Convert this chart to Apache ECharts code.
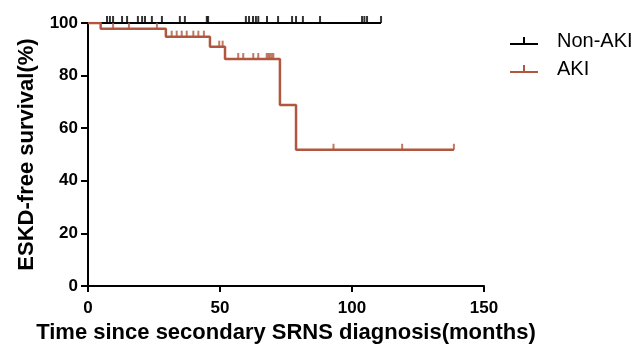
<!DOCTYPE html>
<html>
<head>
<meta charset="utf-8">
<script src="https://cdn.jsdelivr.net/npm/echarts@6/dist/echarts.min.js"></script>
<style>
  html, body { margin: 0; padding: 0; background: #fff; }
  #chart { width: 635px; height: 345px; }
</style>
</head>
<body>
<div id="chart"></div>
<script>
// Kaplan-Meier steps: time (months) where survival changes, and survival (%) from that time on
const nonAkiTimes = [0, 111]
const nonAkiSurv = [100, 100]
const akiTimes = [0, 4.8, 29.5, 46.2, 51.9, 72.7, 78.8, 138.6]
const akiSurv = [100, 97.8, 94.8, 91, 86.3, 68.8, 51.8, 51.8]

// censored observations (months)
const nonAkiCensor = [7.2, 8.3, 9.5, 12.9, 14.8, 18.9, 20.5, 21.6, 24.2, 28, 34.8, 36.7,
  45, 45.5, 59.8, 61, 62.5, 63.6, 64.5, 67.8, 72, 77.3, 78.8, 81.4, 87.9,
  103.8, 104.7, 105.7, 111]
const akiCensor = [9.5, 15.5, 26.1, 31.7, 33.6, 35.5, 37.4, 39.9, 41.8, 43.9, 49.7, 51,
  56.9, 58.8, 62.6, 64.5, 67.7, 68.3, 68.9, 69.6, 70.2, 93, 119, 138.6]

const xTicks = [0, 50, 100, 150]
const yTicks = [0, 20, 40, 60, 80, 100]

const BLACK = "#000000"
const RUST = "#b0573d"
const FONT = "Liberation Sans"

// survival level at time t for a step curve
function survAt(times, surv, t) {
  let v = surv[0]
  for (let i = 0; i < times.length; i++) {
    if (times[i] <= t) v = surv[i]
  }
  return v
}

const steps = (times, surv) => times.map((t, i) => [t, surv[i]])
const censorPts = (cens, times, surv) => cens.map(t => [t, survAt(times, surv, t)])

const chart = echarts.init(document.getElementById("chart"))

const tickSymbol = "path://M0,0h1v10h-1z"

chart.setOption({
  animation: false,
  backgroundColor: "#fff",
  grid: { left: 88, right: 151, top: 23, bottom: 59, containLabel: false, outerBoundsMode: "none" },
  legend: {
    orient: "vertical",
    left: 505,
    top: 26,
    itemWidth: 28,
    itemHeight: 8,
    itemGap: 8,
    icon: "path://M0,6h28v2H0z M13,0h2v7h-2z",
    textStyle: { fontFamily: FONT, fontSize: 20, color: BLACK, padding: [0, 0, 0, 14] },
    data: ["Non-AKI", "AKI"],
  },
  xAxis: {
    type: "value",
    min: xTicks[0],
    max: xTicks[xTicks.length - 1],
    interval: 50,
    name: "Time since secondary SRNS diagnosis(months)",
    nameLocation: "middle",
    nameGap: 32,
    nameTextStyle: { fontFamily: FONT, fontSize: 22, fontWeight: "bold", color: BLACK },
    axisLine: { lineStyle: { color: BLACK, width: 2 } },
    axisTick: { show: true, length: 6, lineStyle: { color: BLACK, width: 2 } },
    axisLabel: { fontFamily: FONT, fontSize: 17, fontWeight: "bold", color: BLACK, margin: 14 },
    splitLine: { show: false },
  },
  yAxis: {
    type: "value",
    min: yTicks[0],
    max: yTicks[yTicks.length - 1],
    interval: 20,
    name: "ESKD-free survival(%)",
    nameLocation: "middle",
    nameGap: 50,
    nameTextStyle: { fontFamily: FONT, fontSize: 22, fontWeight: "bold", color: BLACK },
    axisLine: { show: true, lineStyle: { color: BLACK, width: 2 } },
    axisTick: { show: true, length: 7, lineStyle: { color: BLACK, width: 2 } },
    axisLabel: { fontFamily: FONT, fontSize: 17, fontWeight: "bold", color: BLACK, margin: 10 },
    splitLine: { show: false },
  },
  series: [
    {
      name: "Non-AKI",
      type: "line",
      step: "end",
      data: steps(nonAkiTimes, nonAkiSurv),
      showSymbol: false,
      lineStyle: { color: BLACK, width: 2 },
      itemStyle: { color: BLACK },
      z: 2,
    },
    {
      name: "Non-AKI censored",
      type: "scatter",
      data: censorPts(nonAkiCensor, nonAkiTimes, nonAkiSurv),
      symbol: tickSymbol,
      symbolSize: [2, 7],
      symbolOffset: [0, -3.5],
      itemStyle: { color: BLACK },
      z: 2,
    },
    {
      name: "AKI",
      type: "line",
      step: "end",
      data: steps(akiTimes, akiSurv),
      showSymbol: false,
      lineStyle: { color: RUST, width: 2.5 },
      itemStyle: { color: RUST },
      z: 3,
    },
    {
      name: "AKI censored",
      type: "scatter",
      data: censorPts(akiCensor, akiTimes, akiSurv),
      symbol: tickSymbol,
      symbolSize: [2, 6],
      symbolOffset: [0, -3],
      itemStyle: { color: RUST },
      z: 3,
    },
  ],
})
</script>
</body>
</html>
